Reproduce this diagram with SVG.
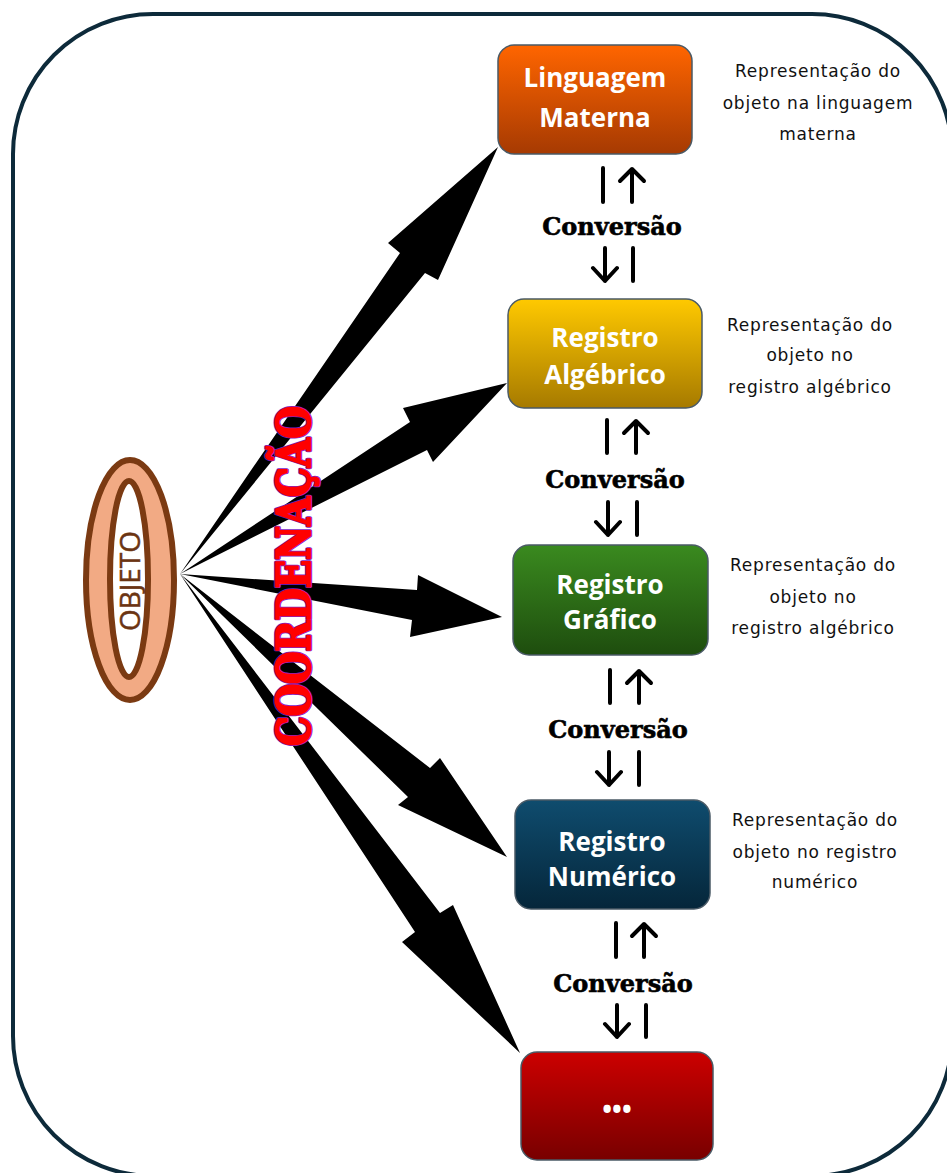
<svg xmlns="http://www.w3.org/2000/svg" width="947" height="1173" viewBox="0 0 947 1173">
<defs>
<linearGradient id="gOrange" x1="0" y1="0" x2="0" y2="1"><stop offset="0" stop-color="#ff6500"/><stop offset="1" stop-color="#a63a02"/></linearGradient>
<linearGradient id="gGold" x1="0" y1="0" x2="0" y2="1"><stop offset="0" stop-color="#ffc900"/><stop offset="1" stop-color="#a67a00"/></linearGradient>
<linearGradient id="gGreen" x1="0" y1="0" x2="0" y2="1"><stop offset="0" stop-color="#3a8a1f"/><stop offset="1" stop-color="#1e4d0e"/></linearGradient>
<linearGradient id="gNavy" x1="0" y1="0" x2="0" y2="1"><stop offset="0" stop-color="#0f4c6e"/><stop offset="1" stop-color="#05263a"/></linearGradient>
<linearGradient id="gRed" x1="0" y1="0" x2="0" y2="1"><stop offset="0" stop-color="#cc0000"/><stop offset="1" stop-color="#780000"/></linearGradient>
<style>
.box{stroke:#4a5a66;stroke-width:1.5}
.bt{font-family:"Open Sans","Liberation Sans",sans-serif;font-weight:bold;font-size:26px;fill:#fff;text-anchor:middle}
.desc{font-family:"DejaVu Sans",sans-serif;font-size:17px;fill:#111;text-anchor:middle;letter-spacing:0.8px}
.conv{font-family:"DejaVu Serif",serif;font-weight:bold;font-size:24px;fill:#000;stroke:#000;stroke-width:0.6;text-anchor:middle}
.vl{stroke:#000;stroke-width:4;fill:none;stroke-linecap:round;stroke-linejoin:round}
.big{fill:#000}
.coord{font-family:"DejaVu Serif",serif;font-weight:bold;font-size:46px;text-anchor:middle}
</style>
</defs>
<rect width="947" height="1173" fill="#fff"/>
<rect id="frame" x="13" y="14" width="939" height="1162" rx="140" ry="140" fill="none" stroke="#0d2a3a" stroke-width="4"/>

<g id="connectors">
<path class="big" d="M180,574 L400,253 L388,243 L498,147 L438,280 L425,273 Z"/>
<path class="big" d="M180,574 L410,422 L403,408 L507,383 L433,462 L427,450 Z"/>
<path class="big" d="M180,574 L417,590 L418,575 L502,617 L410,637 L412,620 Z"/>
<path class="big" d="M180,574 L430,768 L440,758 L507,857 L398,805 L408,797 Z"/>
<path class="big" d="M180,574 L440,913 L453,905 L520,1053 L402,942 L415,932 Z"/>
<g id="conv1">
<path class="vl" d="M603,168 V202 M632,169 V202 M620,181 L632,169 L644,181"/>
<text class="conv" x="612" y="235">Conversão</text>
<path class="vl" d="M605,248 V281 M593,268 L605,281 L617,268 M633,248 V281"/>
</g>
<g id="conv2">
<path class="vl" d="M607,420 V453 M636,421 V453 M624,433 L636,421 L648,433"/>
<text class="conv" x="615" y="488">Conversão</text>
<path class="vl" d="M608,502 V535 M596,522 L608,535 L620,522 M637,502 V535"/>
</g>
<g id="conv3">
<path class="vl" d="M610,670 V703 M639,671 V703 M627,683 L639,671 L651,683"/>
<text class="conv" x="618" y="738">Conversão</text>
<path class="vl" d="M609,752 V785 M597,772 L609,785 L621,772 M639,752 V785"/>
</g>
<g id="conv4">
<path class="vl" d="M616,923 V957 M644,924 V957 M632,936 L644,924 L656,936"/>
<text class="conv" x="623" y="992">Conversão</text>
<path class="vl" d="M617,1005 V1037 M605,1024 L617,1037 L629,1024 M646,1005 V1037"/>
</g>
</g>

<g id="objeto">
<ellipse cx="130" cy="580" rx="44" ry="120" fill="#f2aa84" stroke="#7b3a12" stroke-width="6"/>
<ellipse cx="129" cy="579" rx="19" ry="98" fill="#fff" stroke="#7b3a12" stroke-width="6"/>
<text transform="translate(140,581) rotate(-90)" font-family="Open Sans, Liberation Sans, sans-serif" font-size="28" fill="#6b3412" stroke="#6b3412" stroke-width="0.5" text-anchor="middle">OBJETO</text>
</g>

<g id="coordenacao">
<text class="coord" transform="translate(310,576) rotate(-90)" fill="#7a22c8" stroke="#7a22c8" stroke-width="4" stroke-linejoin="round" textLength="340" lengthAdjust="spacingAndGlyphs">COORDENAÇÃO</text>
<text class="coord" transform="translate(310,576) rotate(-90)" fill="#ff0000" stroke="#ff0000" stroke-width="2.2" stroke-linejoin="round" textLength="340" lengthAdjust="spacingAndGlyphs">COORDENAÇÃO</text>
</g>

<g id="n1">
<rect class="box" x="498" y="45" width="194" height="109" rx="16" fill="url(#gOrange)"/>
<text class="bt" x="595" y="87">Linguagem</text>
<text class="bt" x="595" y="127">Materna</text>
</g>
<g id="d1">
<text class="desc" x="818" y="77">Representação do</text>
<text class="desc" x="818" y="109">objeto na linguagem</text>
<text class="desc" x="818" y="140">materna</text>
</g>

<g id="n2">
<rect class="box" x="508" y="299" width="194" height="109" rx="16" fill="url(#gGold)"/>
<text class="bt" x="605" y="347">Registro</text>
<text class="bt" x="605" y="384">Algébrico</text>
</g>
<g id="d2">
<text class="desc" x="810" y="331">Representação do</text>
<text class="desc" x="810" y="361">objeto no</text>
<text class="desc" x="810" y="393">registro algébrico</text>
</g>

<g id="n3">
<rect class="box" x="513" y="545" width="195" height="110" rx="16" fill="url(#gGreen)"/>
<text class="bt" x="610" y="594">Registro</text>
<text class="bt" x="610" y="629">Gráfico</text>
</g>
<g id="d3">
<text class="desc" x="813" y="571">Representação do</text>
<text class="desc" x="813" y="603">objeto no</text>
<text class="desc" x="813" y="634">registro algébrico</text>
</g>

<g id="n4">
<rect class="box" x="515" y="800" width="195" height="109" rx="16" fill="url(#gNavy)"/>
<text class="bt" x="612" y="851">Registro</text>
<text class="bt" x="612" y="886">Numérico</text>
</g>
<g id="d4">
<text class="desc" x="815" y="826">Representação do</text>
<text class="desc" x="815" y="858">objeto no registro</text>
<text class="desc" x="815" y="888">numérico</text>
</g>

<g id="n5">
<rect class="box" x="521" y="1052" width="192" height="108" rx="16" fill="url(#gRed)"/>
<text class="bt" x="617" y="1119" font-size="16">•••</text>
</g>
</svg>
